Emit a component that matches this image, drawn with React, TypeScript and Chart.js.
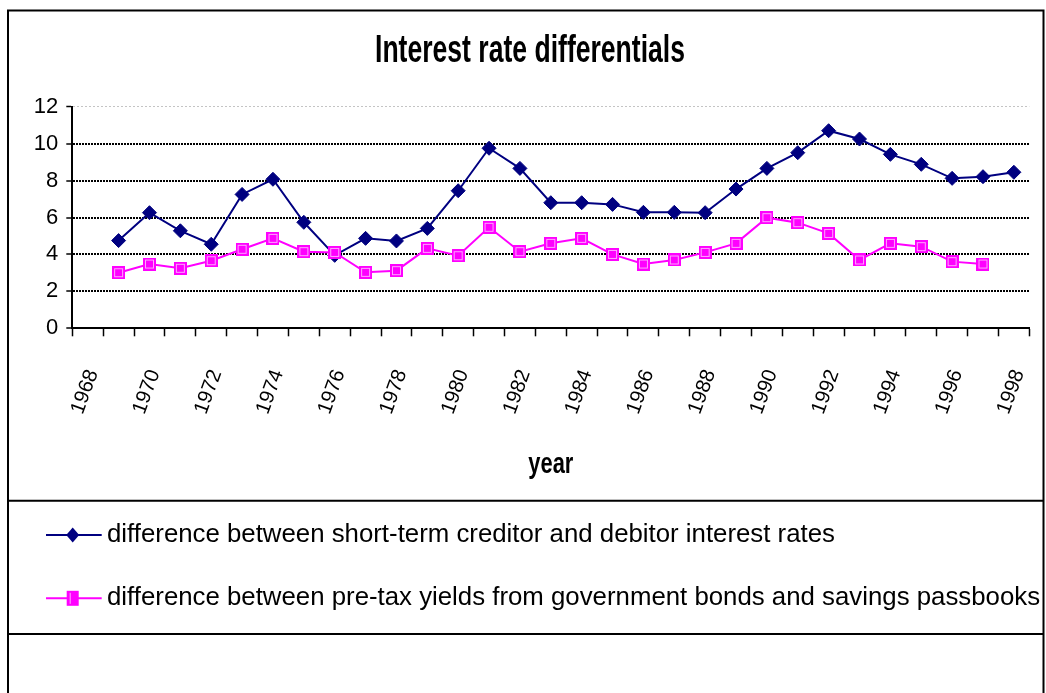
import { useEffect, useRef } from 'react';
import { Chart, registerables } from 'chart.js';

Chart.register(...registerables);

// ---------- data ----------
const years = [
  '1968', '1969', '1970', '1971', '1972', '1973', '1974', '1975', '1976', '1977', '1978',
  '1979', '1980', '1981', '1982', '1983', '1984', '1985', '1986', '1987', '1988',
  '1989', '1990', '1991', '1992', '1993', '1994', '1995', '1996', '1997', '1998',
];

const creditorDebitorSpread = [
  null, 4.75, 6.26, 5.28, 4.55, 7.25, 8.07, 5.74, 3.95, 4.87, 4.73,
  5.41, 7.45, 9.75, 8.66, 6.8, 6.8, 6.71, 6.28, 6.28, 6.26,
  7.54, 8.66, 9.51, 10.7, 10.25, 9.42, 8.88, 8.12, 8.21, 8.45,
];

const bondPassbookSpread = [
  null, 3.01, 3.48, 3.25, 3.66, 4.28, 4.87, 4.15, 4.11, 3.03, 3.12,
  4.33, 3.93, 5.47, 4.15, 4.6, 4.87, 4.0, 3.48, 3.7, 4.11,
  4.6, 5.99, 5.72, 5.14, 3.7, 4.6, 4.42, 3.61, 3.48, null,
];

const seriesNames = [
  'difference between short-term creditor and debitor interest rates',
  'difference between pre-tax yields from government bonds and savings passbooks',
];

const chartTitle = 'Interest rate differentials';
const xAxisTitle = 'year';

// ---------- styles ----------
const FAMILY = '"Liberation Sans", Arial, Helvetica, sans-serif';
const NAVY = '#000080';
const MAGENTA = '#ff00ff';
const W = 1046;
const H = 693;

function makeSquareMarker(w: number, h: number, fill: string, inner: string) {
  const c = document.createElement('canvas');
  c.width = w;
  c.height = h;
  const g = c.getContext('2d')!;
  g.fillStyle = fill;
  g.fillRect(0, 0, w, h);
  g.strokeStyle = inner;
  g.lineWidth = 1;
  g.strokeRect(2.5, 2.5, w - 5, h - 5);
  return c;
}

function drawCondensed(
  ctx: CanvasRenderingContext2D,
  text: string,
  font: string,
  cx: number,
  baseline: number,
  targetWidth: number,
) {
  ctx.save();
  ctx.font = font;
  ctx.fillStyle = '#000';
  ctx.textAlign = 'center';
  ctx.textBaseline = 'alphabetic';
  const w = ctx.measureText(text).width;
  const sx = w > 0 ? targetWidth / w : 1;
  ctx.translate(cx, baseline);
  ctx.scale(sx, 1);
  ctx.fillText(text, 0, 0);
  ctx.restore();
}

const framePlugin = {
  id: 'excelFrame',
  beforeDraw(chart: any) {
    const ctx = chart.ctx as CanvasRenderingContext2D;
    ctx.save();
    ctx.fillStyle = '#fff';
    ctx.fillRect(0, 0, chart.width, chart.height);
    ctx.restore();
  },
  afterDraw(chart: any) {
    const ctx = chart.ctx as CanvasRenderingContext2D;
    const area = chart.chartArea;
    ctx.save();
    // frame + dividers
    ctx.strokeStyle = '#000';
    ctx.lineWidth = 2;
    ctx.strokeRect(8, 10.5, 1035.5, 720);
    ctx.beginPath();
    ctx.moveTo(8, 500.7);
    ctx.lineTo(1043.5, 500.7);
    ctx.moveTo(8, 634);
    ctx.lineTo(1043.5, 634);
    ctx.stroke();
    ctx.restore();

    // titles
    drawCondensed(ctx, chartTitle, `bold 39px ${FAMILY}`, 530, 61.7, 310);
    drawCondensed(ctx, xAxisTitle, `bold 29px ${FAMILY}`, (area.left + area.right) / 2, 473, 45);

    // legend
    const rows = [535, 598.3];
    chart.data.datasets.forEach((ds: any, i: number) => {
      const y = rows[i];
      ctx.save();
      ctx.strokeStyle = ds.borderColor;
      ctx.lineWidth = 2;
      ctx.beginPath();
      ctx.moveTo(46, y);
      ctx.lineTo(101.7, y);
      ctx.stroke();
      const mx = 72.7;
      if (i === 0) {
        ctx.fillStyle = ds.borderColor;
        ctx.beginPath();
        ctx.moveTo(mx, y - 7.5);
        ctx.lineTo(mx + 6.5, y);
        ctx.lineTo(mx, y + 7.5);
        ctx.lineTo(mx - 6.5, y);
        ctx.closePath();
        ctx.fill();
      } else {
        ctx.fillStyle = ds.borderColor;
        ctx.fillRect(mx - 6, y - 7.5, 12, 15);
        ctx.strokeStyle = '#ffa6ff';
        ctx.lineWidth = 1;
        ctx.beginPath();
        ctx.moveTo(mx - 2.5, y - 5.5);
        ctx.lineTo(mx - 2.5, y + 5.5);
        ctx.stroke();
      }
      ctx.fillStyle = '#000';
      ctx.font = `25.8px ${FAMILY}`;
      ctx.textAlign = 'left';
      ctx.textBaseline = 'alphabetic';
      ctx.fillText(ds.label, 107, y + 6.7);
      ctx.restore();
    });
  },
};

export default function App() {
  const ref = useRef<HTMLCanvasElement>(null);

  useEffect(() => {
    const canvas = ref.current!;
    const pinkSquare = makeSquareMarker(13, 13, MAGENTA, '#ffa6ff');
    const chart = new Chart(canvas, {
      type: 'line',
      data: {
        labels: years,
        datasets: [
          {
            label: seriesNames[0],
            data: creditorDebitorSpread,
            borderColor: NAVY,
            backgroundColor: NAVY,
            borderWidth: 2,
            pointStyle: 'rectRot',
            pointRadius: 7,
            pointBorderWidth: 1,
            pointBackgroundColor: NAVY,
            pointBorderColor: NAVY,
            tension: 0,
            order: 1,
          },
          {
            label: seriesNames[1],
            data: bondPassbookSpread,
            borderColor: MAGENTA,
            backgroundColor: MAGENTA,
            borderWidth: 2,
            pointStyle: pinkSquare as any,
            pointRadius: 6,
            tension: 0,
            order: 0,
          },
        ],
      },
      options: {
        responsive: false,
        animation: false,
        devicePixelRatio: 1,
        events: [],
        layout: { padding: { left: 10, right: 16.7, top: 106.7, bottom: 244.7 } },
        plugins: {
          legend: { display: false },
          title: { display: false },
          tooltip: { enabled: false },
        },
        scales: {
          x: {
            type: 'category',
            offset: true,
            grid: {
              offset: true,
              drawOnChartArea: false,
              drawTicks: true,
              tickLength: 8,
              tickColor: '#000',
              tickWidth: 1.5,
            },
            border: { display: true, color: '#000', width: 2 },
            ticks: {
              autoSkip: false,
              maxRotation: 70,
              minRotation: 70,
              padding: 30,
              labelOffset: 5,
              color: '#000',
              font: { family: FAMILY, size: 20.5 },
              callback: (_v: any, i: number) => (i % 2 === 0 ? years[i] : ''),
            },
            afterFit: (s: any) => {
              s.height = 120;
              s.paddingLeft = 0;
              s.paddingRight = 0;
            },
          },
          y: {
            min: 0,
            max: 12,
            ticks: {
              stepSize: 2,
              padding: 8,
              color: '#000',
              font: { family: FAMILY, size: 22 },
            },
            grid: {
              color: (c: any) => {
                const v = c.tick ? c.tick.value : null;
                if (v === 0) return 'rgba(0,0,0,0)';
                if (v === 12) return '#c4c4c4';
                return '#000';
              },
              lineWidth: (c: any) => (c.tick && c.tick.value === 12 ? 1 : 2),
              tickLength: 6,
              tickColor: '#000',
              tickWidth: 1.5,
              tickBorderDash: [],
            },
            border: {
              display: true,
              color: '#000',
              width: 2,
              dash: (c: any) => (c.tick && c.tick.value === 12 ? [2, 2] : [2, 1]),
            },
            afterFit: (s: any) => {
              s.width = 62.3;
            },
          },
        },
      },
      plugins: [framePlugin],
    } as any);
    return () => chart.destroy();
  }, []);

  return (
    <div style={{ position: 'fixed', left: 0, top: 0, width: W, height: H, background: '#fff' }}>
      <canvas ref={ref} width={W} height={H} style={{ display: 'block', width: W, height: H }} />
    </div>
  );
}
